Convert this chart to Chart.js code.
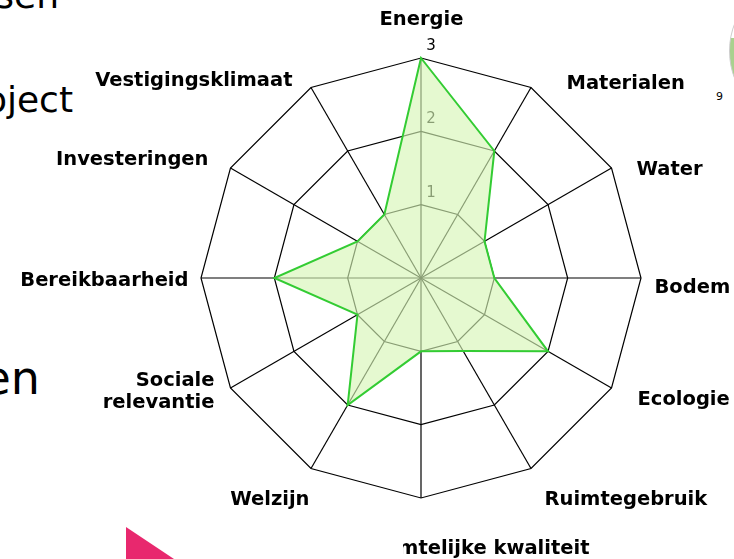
<!DOCTYPE html>
<html lang="nl">
<head>
    <meta charset="UTF-8">
    <title>Duurzaamheidsprofiel</title>
    <script src="https://cdn.jsdelivr.net/npm/chart.js"></script>
    <style>
        html, body { margin: 0; padding: 0; background: #fff; }
        #page { position: relative; width: 734px; height: 559px; overflow: hidden; font-family: "DejaVu Sans", sans-serif; }
        .bg { position: absolute; color: #000; white-space: nowrap; line-height: 1; }
        #chartBox { position: absolute; left: 0; top: 0; width: 734px; height: 559px; }
        #pie { position: absolute; left: 729px; top: -25px; width: 150px; height: 150px; border-radius: 50%;
               border: 1px solid #ccc; background: conic-gradient(#fff 0 245deg, #a9d18e 245deg 280deg, #fff 280deg); }
        #arrow { position: absolute; left: 126px; top: 527px; width: 60px; height: 40px; background: #e8286e;
                 clip-path: polygon(0 0, 100% 100%, 0 100%); }
    </style>
</head>
<body>
<div id="page">
    <!-- leftovers of the slide behind the chart -->
    <div class="bg" style="right:675px; top:-22px; font-size:36px;">fasen</div>
    <div class="bg" style="right:661px; top:82px; font-size:36px;">project</div>
    <div class="bg" style="right:694px; top:355px; font-size:46px;">en</div>
    <div class="bg" style="left:716px; top:91px; font-size:11px;">9</div>
    <div id="pie"></div>
    <div id="arrow"></div>
    <div id="chartBox"><canvas id="radarChart"></canvas></div>
</div>

<script>
    const categories = [
        'Energie', 'Materialen', 'Water', 'Bodem', 'Ecologie', 'Ruimtegebruik',
        'Ruimtelijke kwaliteit', 'Welzijn', ['Sociale', 'relevantie'], 'Bereikbaarheid',
        'Investeringen', 'Vestigingsklimaat'
    ];
    const scores = [3, 2, 1, 1, 2, 1.15, 1, 2, 1, 2, 1, 1];
    const tickValues = [1, 2, 3];

    // where each axis title sits against its outer corner: align, dx, dy (to baseline), clip left edge
    const labelSpots = [
        ['center', 0.5, -33],
        ['left', 35.5, 1.5],
        ['left', 25, 7],
        ['left', 13.5, 15],
        ['left', 26, 17],
        ['left', 13.5, 36.5],
        ['right', 168.5, 56, 403],
        ['right', -1.5, 36.5],
        ['right', -16, -2],
        ['right', -12.5, 8],
        ['right', -22, -3],
        ['right', -18.5, -1.5]
    ];

    // tick numbers sit a bit right of / above the top axis, under the fill
    const tickLabels = {
        id: 'tickLabels',
        beforeDatasetsDraw(chart) {
            const r = chart.scales.r;
            const ctx = chart.ctx;
            ctx.save();
            ctx.font = '15px "DejaVu Sans"';
            ctx.fillStyle = '#000';
            ctx.textAlign = 'center';
            ctx.textBaseline = 'middle';
            tickValues.forEach(v => {
                const p = r.getPointPositionForValue(0, v);
                ctx.fillText(String(v), p.x + 10, p.y - 12);
            });
            ctx.restore();
        }
    };

    const axisTitles = {
        id: 'axisTitles',
        afterDatasetsDraw(chart) {
            const r = chart.scales.r;
            const ctx = chart.ctx;
            ctx.save();
            ctx.font = 'bold 19.5px "DejaVu Sans"';
            ctx.fillStyle = '#000';
            ctx.textBaseline = 'alphabetic';
            categories.forEach((label, i) => {
                const [align, dx, dy, clipX] = labelSpots[i];
                const p = r.getPointPosition(i, r.drawingArea);
                const lines = Array.isArray(label) ? label : [label];
                ctx.save();
                if (clipX !== undefined) {
                    ctx.beginPath();
                    ctx.rect(clipX, 0, chart.width - clipX, chart.height);
                    ctx.clip();
                }
                ctx.textAlign = align;
                lines.forEach((line, k) => ctx.fillText(line, p.x + dx, p.y + dy + k * 22));
                ctx.restore();
            });
            ctx.restore();
        }
    };

    const ctx = document.getElementById('radarChart').getContext('2d');
    new Chart(ctx, {
        type: 'radar',
        data: {
            labels: categories,
            datasets: [{
                data: scores,
                fill: true,
                backgroundColor: 'rgba(214, 246, 182, 0.64)',
                borderColor: '#33cc33',
                borderWidth: 2,
                pointRadius: 0,
                pointHoverRadius: 0
            }]
        },
        options: {
            responsive: true,
            maintainAspectRatio: false,
            animation: false,
            layout: { padding: { top: 58, bottom: 61, left: 150, right: 42 } },
            plugins: { legend: { display: false }, tooltip: { enabled: false } },
            scales: {
                r: {
                    min: 0,
                    max: 3,
                    ticks: { stepSize: 1, display: false },
                    grid: { color: '#000', lineWidth: 1.2 },
                    angleLines: { color: '#000', lineWidth: 1.2 },
                    pointLabels: { display: false }
                }
            }
        },
        plugins: [tickLabels, axisTitles]
    });
</script>
</body>
</html>
